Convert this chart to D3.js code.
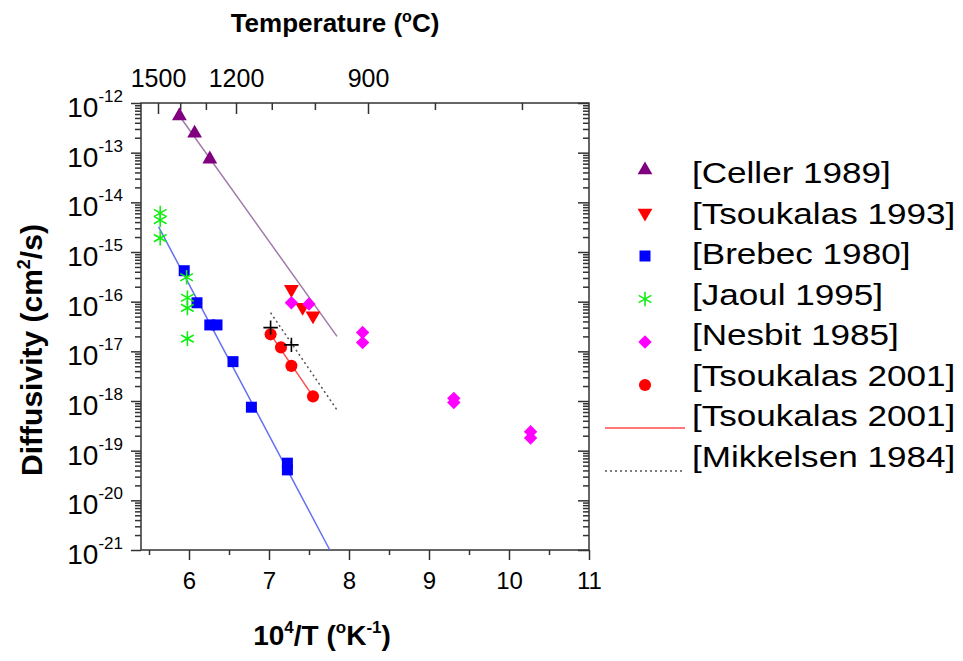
<!DOCTYPE html>
<html>
<head>
<meta charset="utf-8">
<script src="https://cdn.jsdelivr.net/npm/d3@7"></script>
<style>
  body { margin: 0; background: #fff; }
  text { font-family: "Liberation Sans", Arial, sans-serif; fill: #000; }
</style>
</head>
<body>
<div id="chart"></div>
<script>
// ---- data (10^4/T in 1/K, diffusivity in cm^2/s) ----
const cellerX = [5.88, 6.07, 6.26];
const cellerD = [5.5e-13, 2.45e-13, 7.4e-14];
const tsou93X = [7.28, 7.42, 7.55];
const tsou93D = [1.77e-16, 7.7e-17, 5.2e-17];
const brebecX = [5.94, 6.1, 6.26, 6.35, 6.55, 6.78, 7.23, 7.23];
const brebecD = [4.2e-16, 9.5e-17, 3.4e-17, 3.4e-17, 6.2e-18, 7.5e-19, 5.6e-20, 4.1e-20];
const jaoulX = [5.64, 5.64, 5.64, 5.97, 5.98, 5.98, 5.98];
const jaoulD = [6.1e-15, 4.4e-15, 1.9e-15, 3.1e-16, 1.2e-16, 7.5e-17, 1.8e-17];
const nesbitX = [7.28, 7.5, 8.17, 8.17, 9.31, 9.31, 10.27, 10.27];
const nesbitD = [9.5e-17, 9.0e-17, 2.4e-17, 1.5e-17, 1.13e-18, 9.3e-19, 2.4e-19, 1.8e-19];
const tsou01X = [7.02, 7.15, 7.28, 7.55];
const tsou01D = [2.2e-17, 1.2e-17, 5.1e-18, 1.24e-18];
const mikkX = [7.02, 7.28];
const mikkD = [3.0e-17, 1.35e-17];

// fitted lines
const cellerFitX = [5.87, 7.85];
const cellerFitD = [5.8e-13, 2.0e-17];
const brebecFitX = [5.62, 7.76];
const brebecFitD = [3.2e-15, 1e-21];
const tsou01FitX = [7.02, 7.55];
const tsou01FitD = [2.2e-17, 1.24e-18];
const mikkFitX = [7.02, 7.85];
const mikkFitD = [6.0e-17, 6.6e-19];

// axes
const xTicks = [6, 7, 8, 9, 10, 11];
const xMinor = [5.5, 6.5, 7.5, 8.5, 9.5, 10.5];
const tempMajor = [1500, 1200, 900];
const tempMinor = [1400, 1300, 1100, 1000, 800, 700];
const legendLabels = [
  "[Celler 1989]", "[Tsoukalas 1993]", "[Brebec 1980]", "[Jaoul 1995]",
  "[Nesbit 1985]", "[Tsoukalas 2001]", "[Tsoukalas 2001]", "[Mikkelsen 1984]"
];

// ---- layout ----
const width = 963, height = 661;
const margin = { top: 103, left: 141 };
const plotW = 448, plotH = 447;
const axisColor = "#333";

const svg = d3.select("#chart").append("svg")
  .attr("width", width).attr("height", height);

const g = svg.append("g")
  .attr("transform", `translate(${margin.left},${margin.top})`);

const x = d3.scaleLinear().domain([5.4, 11]).range([0, plotW]);
const y = d3.scaleLog().domain([1e-21, 1e-12]).range([plotH, 0]);
// top temperature axis, as spaced in the source figure
const invT = t => 1e4 / (t - 33);
const xTop = d3.scaleLinear().domain([invT(1500), invT(900)]).range([17, 227]);

const decades = d3.range(-21, -11).map(e => Math.pow(10, e));
const yMinor = [];
d3.range(-21, -12).forEach(e => { for (let k = 2; k < 10; k++) yMinor.push(k * Math.pow(10, e)); });

function styleAxis(sel) {
  sel.select(".domain").remove();
  sel.selectAll("line").attr("stroke", axisColor).attr("stroke-width", 1.5);
}

// left
g.append("g").call(d3.axisLeft(y).tickValues(decades).tickSize(10).tickFormat("")).call(styleAxis);
g.append("g").call(d3.axisLeft(y).tickValues(yMinor).tickSize(6).tickFormat("")).call(styleAxis);
// right (inward)
g.append("g").attr("transform", `translate(${plotW},0)`)
  .call(d3.axisRight(y).tickValues(decades).tickSize(-11).tickFormat("")).call(styleAxis);
g.append("g").attr("transform", `translate(${plotW},0)`)
  .call(d3.axisRight(y).tickValues(yMinor).tickSize(-6).tickFormat("")).call(styleAxis);

// y labels 10^n
g.append("g").selectAll("text").data(decades).join("text")
  .attr("x", -18)
  .attr("y", d => y(d) + 14)
  .attr("text-anchor", "end")
  .style("font-size", "28px")
  .each(function (d) {
    const t = d3.select(this);
    t.append("tspan").text("10");
    t.append("tspan").attr("dy", -15).style("font-size", "17px").text(Math.round(Math.log10(d)));
  });

// bottom
const xAxisGroup = g.append("g").attr("transform", `translate(0,${plotH})`)
  .call(d3.axisBottom(x).tickValues(xTicks).tickSize(10).tickPadding(12).tickFormat(d3.format("d")))
  .call(styleAxis);
xAxisGroup.selectAll("text").style("font-size", "24px").attr("fill", "#000");
g.append("g").attr("transform", `translate(0,${plotH})`)
  .call(d3.axisBottom(x).tickValues(xMinor).tickSize(5).tickFormat("")).call(styleAxis);

// top (ticks point down into the plot)
const topAxisGroup = g.append("g")
  .call(d3.axisTop(xTop).tickValues(tempMajor.map(invT)).tickSize(-11).tickPadding(16)
    .tickFormat((d, i) => tempMajor[i]))
  .call(styleAxis);
topAxisGroup.selectAll("text").style("font-size", "25px").attr("fill", "#000");
g.append("g").call(d3.axisTop(xTop).tickValues(tempMinor.map(invT)).tickSize(-7).tickFormat(""))
  .call(styleAxis);

// frame
g.append("rect")
  .attr("width", plotW).attr("height", plotH)
  .attr("fill", "none").attr("stroke", axisColor).attr("stroke-width", 1.5);

// ---- fit lines ----
const line = d3.line().x(d => x(d.x)).y(d => y(d.d));
const zip = (xs, ds) => xs.map((v, i) => ({ x: v, d: ds[i] }));

const fits = [
  { xs: cellerFitX, ds: cellerFitD, color: "#a07aaa", dash: null },
  { xs: brebecFitX, ds: brebecFitD, color: "#6670f2", dash: null },
  { xs: tsou01FitX, ds: tsou01FitD, color: "#ff4c4c", dash: null },
  { xs: mikkFitX, ds: mikkFitD, color: "#555", dash: "2,3" }
];
fits.forEach(f => {
  g.append("path")
    .datum(zip(f.xs, f.ds))
    .attr("fill", "none")
    .attr("stroke", f.color)
    .attr("stroke-width", 1.5)
    .attr("stroke-dasharray", f.dash)
    .attr("d", line);
});

// ---- markers ----
const asterisk = d3.symbolAsterisk || d3.symbolCross;
const plus = d3.symbolPlus || d3.symbolCross;
const series = [
  { xs: cellerX, ds: cellerD, type: d3.symbolTriangle, size: 95, rot: 0, fill: "#800080" },
  { xs: tsou93X, ds: tsou93D, type: d3.symbolTriangle, size: 95, rot: 180, fill: "#ff0000" },
  { xs: brebecX, ds: brebecD, type: d3.symbolSquare, size: 121, rot: 0, fill: "#0000ff" },
  { xs: jaoulX, ds: jaoulD, type: asterisk, size: 150, rot: 0, stroke: "#11ee11" },
  { xs: nesbitX, ds: nesbitD, type: d3.symbolSquare, size: 90, rot: 45, fill: "#ff00ff" },
  { xs: tsou01X, ds: tsou01D, type: d3.symbolCircle, size: 115, rot: 0, fill: "#ff0000" },
  { xs: mikkX, ds: mikkD, type: plus, size: 70, rot: 0, stroke: "#000" }
];

function drawSymbol(sel, s) {
  sel.attr("d", d3.symbol().type(s.type).size(s.size))
    .attr("fill", s.fill || "none")
    .attr("stroke", s.stroke || "none")
    .attr("stroke-width", s.stroke ? 1.6 : 0);
}

series.forEach(s => {
  g.append("g").selectAll("path")
    .data(zip(s.xs, s.ds))
    .join("path")
    .attr("transform", d => `translate(${x(d.x)},${y(d.d)}) rotate(${s.rot})`)
    .call(drawSymbol, s);
});

// ---- titles ----
const topTitle = svg.append("text")
  .attr("x", 335).attr("y", 32)
  .attr("text-anchor", "middle")
  .style("font-size", "26px").style("font-weight", "bold");
topTitle.append("tspan").text("Temperature (");
topTitle.append("tspan").attr("dy", -10).style("font-size", "16px").text("o");
topTitle.append("tspan").attr("dy", 10).text("C)");

const xTitle = svg.append("text")
  .attr("x", 322).attr("y", 645)
  .attr("text-anchor", "middle")
  .style("font-size", "28px").style("font-weight", "bold");
xTitle.append("tspan").text("10");
xTitle.append("tspan").attr("dy", -12).style("font-size", "17px").text("4");
xTitle.append("tspan").attr("dy", 12).text("/T (");
xTitle.append("tspan").attr("dy", -12).style("font-size", "17px").text("o");
xTitle.append("tspan").attr("dy", 12).text("K");
xTitle.append("tspan").attr("dy", -12).style("font-size", "17px").text("-1");
xTitle.append("tspan").attr("dy", 12).text(")");

const yTitle = svg.append("text")
  .attr("transform", "translate(42,350) rotate(-90)")
  .attr("text-anchor", "middle")
  .style("font-size", "30px").style("font-weight", "bold");
yTitle.append("tspan").text("Diffusivity (cm");
yTitle.append("tspan").attr("dy", -12).style("font-size", "18px").text("2");
yTitle.append("tspan").attr("dy", 12).text("/s)");

// ---- legend ----
const legend = svg.append("g");
legendLabels.forEach((label, i) => {
  legend.append("text")
    .attr("transform", `translate(692,${183 + i * 40.5}) scale(1.17,1)`)
    .style("font-size", "30px")
    .text(label);
  const my = 170 + i * 43;
  if (i < series.length - 1) {
    legend.append("path")
      .attr("transform", `translate(645,${my}) rotate(${series[i].rot})`)
      .call(drawSymbol, series[i]);
  } else {
    const f = i === 6 ? fits[2] : fits[3];
    legend.append("line")
      .attr("x1", 605).attr("x2", 685).attr("y1", my).attr("y2", my)
      .attr("stroke", f.color).attr("stroke-width", 1.5)
      .attr("stroke-dasharray", f.dash);
  }
});
</script>
</body>
</html>
